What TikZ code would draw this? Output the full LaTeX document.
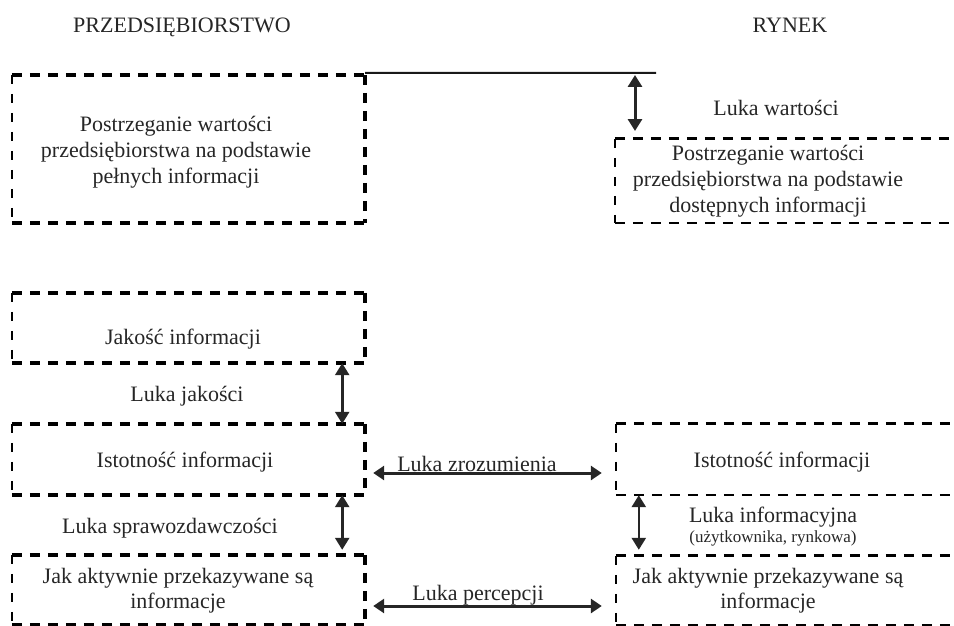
\documentclass[tikz,border=0pt]{standalone}
\usepackage{fontspec}
\setmainfont{Liberation Serif}
\usetikzlibrary{arrows.meta}
\tikzset{
  txt/.style={inner sep=0pt, align=center, font=\fontsize{22}{26}\selectfont, text=black!85},
  txtsmall/.style={inner sep=0pt, align=center, font=\fontsize{17}{19}\selectfont, text=black!85},
  boxnode/.style={draw=none, inner sep=0pt, rectangle},
  heavy/.style={line width=3.6pt, dash pattern=on 10pt off 8pt},
  medium/.style={line width=2.2pt, dash pattern=on 10pt off 8pt},
  light/.style={line width=1.6pt, dash pattern=on 9pt off 10pt},
  gap/.style={line width=2.6pt, draw=black!85, {Triangle[length=12pt,width=14pt]}-{Triangle[length=12pt,width=14pt]}},
  hgap/.style={line width=3pt, draw=black!85, {Triangle[length=11pt,width=14pt]}-{Triangle[length=11pt,width=14pt]}}
}
\begin{document}
\begin{tikzpicture}[x=1pt,y=-1pt]
\useasboundingbox (0,0) rectangle (954,626);

% titles
\node[txt, anchor=base] (t1) at (182,33) {PRZEDSIĘBIORSTWO};
\node[txt, anchor=base] (t2) at (790,33) {RYNEK};

% left boxes
\node[boxnode, minimum width=353pt, minimum height=148pt] (b1) at (188.5,149) {};
\node[boxnode, minimum width=353pt, minimum height=70pt] (b2) at (188.5,328) {};
\node[boxnode, minimum width=353pt, minimum height=71pt] (b3) at (188.5,459.5) {};
\node[boxnode, minimum width=353pt, minimum height=70pt] (b4) at (188.5,590) {};

% right boxes (continue past the right edge)
\node[boxnode, minimum width=345pt, minimum height=84pt] (r1) at (787.5,181) {};
\node[boxnode, minimum width=345pt, minimum height=71pt] (r3) at (788.5,459.5) {};
\node[boxnode, minimum width=345pt, minimum height=69pt] (r4) at (788.5,590.5) {};

% sides of left boxes
\foreach \b in {b1,b2,b3,b4}{
  \draw[heavy] (\b.north west) -- (\b.north east);
  \draw[heavy] (\b.south west) -- (\b.south east);
  \draw[heavy, line width=4.2pt] (\b.north east) -- (\b.south east);
  \draw[light] (\b.north west) -- (\b.south west);
}
% sides of right boxes
\foreach \b in {r1,r3,r4}{
  \draw[heavy, line width=3.2pt] (\b.north west) -- (\b.north east);
  \draw[medium] (\b.south west) -- (\b.south east);
  \draw[light] (\b.north west) -- (\b.south west);
}

% box texts
\node[txt] (b1t) at (176,152) {Postrzeganie wartości\\przedsiębiorstwa na podstawie\\pełnych informacji};
\node[txt] (b2t) at (183,339) {Jakość informacji};
\node[txt] (b3t) at (185,462) {Istotność informacji};
\node[txt, font=\fontsize{22}{25}\selectfont] (b4t) at (178,591) {Jak aktywnie przekazywane są\\informacje};
\node[txt] (r1t) at (768,181) {Postrzeganie wartości\\przedsiębiorstwa na podstawie\\dostępnych informacji};
\node[txt] (r3t) at (782,462) {Istotność informacji};
\node[txt, font=\fontsize{22}{25}\selectfont] (r4t) at (768,591) {Jak aktywnie przekazywane są\\informacje};

% top line and value gap
\coordinate (lineEnd) at (656,73);
\draw[line width=2pt, draw=black!90] ([yshift=2pt]b1.north east) -- (lineEnd);
\coordinate (wTop) at (635,75);
\coordinate (wBot) at (635,131);
\draw[gap, line width=3pt] (wTop) -- (wBot);
\node[txt] (lw) at (776,108) {Luka wartości};

% quality gap
\draw[gap] ([xshift=-23pt]b2.south east) -- ([xshift=-23pt]b3.north east);
\node[txt] (lj) at (187,396) {Luka jakości};

% reporting gap
\draw[gap] ([xshift=-23pt]b3.south east) -- ([xshift=-23pt, yshift=5pt]b4.north east);
\node[txt] (ls) at (170,528) {Luka sprawozdawczości};

% information gap
\draw[gap] ([xshift=23pt]r3.south west) -- ([xshift=23pt, yshift=6pt]r4.north west);
\node[txt] (li) at (773,517) {Luka informacyjna};
\node[txtsmall] (lu) at (773,538) {(użytkownika, rynkowa)};

% understanding gap
\draw[hgap] ([xshift=8pt, yshift=-13.5pt]b3.east) -- ([xshift=-14pt, yshift=-13.5pt]r3.west);
\node[txt, anchor=base] (lz) at (477,471) {Luka zrozumienia};

% perception gap
\draw[hgap] ([xshift=8pt, yshift=-16pt]b4.east) -- ([xshift=-14pt, yshift=-15.5pt]r4.west);
\node[txt, anchor=base] (lp) at (478,600) {Luka percepcji};
\end{tikzpicture}
\end{document}
